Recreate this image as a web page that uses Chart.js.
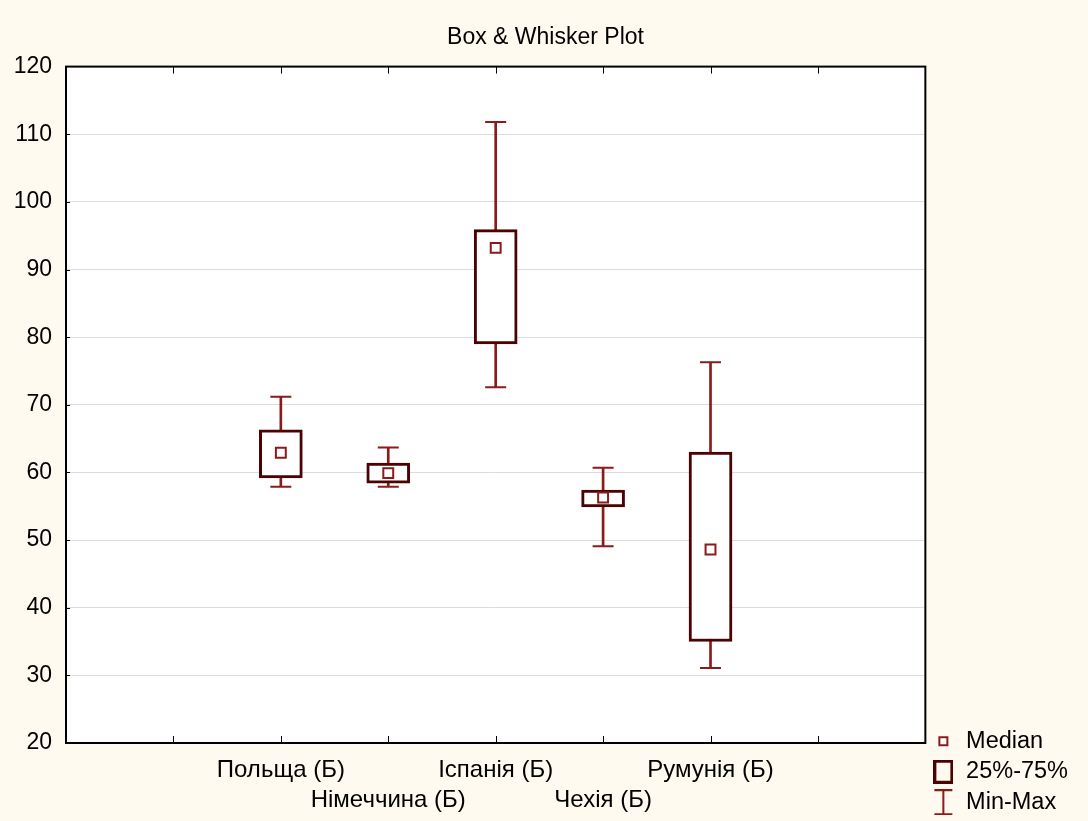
<!DOCTYPE html>
<html>
<head>
<meta charset="utf-8">
<title>Box & Whisker Plot</title>
<script src="https://cdn.jsdelivr.net/npm/chart.js@4/dist/chart.umd.min.js"></script>
<style>
  html, body { margin: 0; padding: 0; background: #fffaef; }
  #wrap { position: relative; width: 1088px; height: 821px; }
</style>
</head>
<body>
<div id="wrap"><canvas id="chart"></canvas></div>
<script>
// ---- data ----
const categories = ['Польща (Б)', 'Німеччина (Б)', 'Іспанія (Б)', 'Чехія (Б)', 'Румунія (Б)'];
const mins    = [57.9, 57.9, 72.6, 49.1, 31.1];
const q1      = [59.2, 58.4, 79.0, 54.9, 35.0];
const medians = [62.9, 59.9, 93.2, 56.3, 48.6];
const q3      = [66.3, 61.4, 95.9, 57.4, 63.0];
const maxs    = [71.2, 63.7, 111.8, 60.7, 76.3];
const yTicks  = [20, 30, 40, 50, 60, 70, 80, 90, 100, 110, 120];
const legendLabels = ['Median', '25%-75%', 'Min-Max'];

const WHISKER = '#8c1a1a';
const BOXLINE = '#4a0202';
const FONT = '"Liberation Sans", Arial, sans-serif';

// categories sit on slots 2..6 of a 0..8 axis (two empty slots each side)
const SLOT0 = 2;
const xMax = categories.length + 3;
const xs = categories.map((_, i) => i + SLOT0);

Chart.defaults.font.family = FONT;
Chart.defaults.color = '#000';

/* ---------- legend icons ---------- */
function icon(w, h, draw) {
  const c = document.createElement('canvas');
  c.width = w; c.height = h;
  draw(c.getContext('2d'));
  return c;
}
const medianIcon = icon(12, 12, ctx => {
  ctx.fillStyle = '#fff';
  ctx.fillRect(1, 1, 10, 10);
  ctx.strokeStyle = WHISKER; ctx.lineWidth = 2;
  ctx.strokeRect(2, 2, 8, 8);
});
const boxIcon = icon(20, 24, ctx => {
  ctx.strokeStyle = BOXLINE; ctx.lineWidth = 3;
  ctx.strokeRect(1.5, 1.5, 17, 21);
});
const rangeIcon = icon(20, 26, ctx => {
  ctx.strokeStyle = WHISKER; ctx.lineWidth = 2;
  ctx.beginPath();
  ctx.moveTo(1, 1); ctx.lineTo(19, 1);
  ctx.moveTo(10, 1); ctx.lineTo(10, 25);
  ctx.moveTo(1, 25); ctx.lineTo(19, 25);
  ctx.stroke();
});

/* ---------- plot frame + inward tick marks ---------- */
const framePlugin = {
  id: 'frame',
  beforeDraw(chart) {
    const { ctx, chartArea: a } = chart;
    ctx.save();
    ctx.fillStyle = '#fff';
    ctx.fillRect(a.left, a.top, a.right - a.left, a.bottom - a.top);
    ctx.restore();
  },
  afterDraw(chart) {
    const { ctx, chartArea: a, scales } = chart;
    ctx.save();
    ctx.strokeStyle = '#000';
    ctx.lineWidth = 1;
    ctx.beginPath();
    for (let v = 1; v < xMax; v++) {
      const px = Math.round(scales.x.getPixelForValue(v)) + 0.5;
      ctx.moveTo(px, a.bottom); ctx.lineTo(px, a.bottom - 7);
      ctx.moveTo(px, a.top); ctx.lineTo(px, a.top + 7);
    }
    for (const t of yTicks.slice(1, -1)) {
      const py = Math.round(scales.y.getPixelForValue(t)) + 0.5;
      ctx.moveTo(a.left, py); ctx.lineTo(a.left + 4, py);
    }
    ctx.stroke();
    ctx.lineWidth = 2;
    ctx.strokeRect(a.left, a.top, a.right - a.left, a.bottom - a.top);
    ctx.restore();
  }
};

const pts = vals => vals.map((v, i) => ({ x: xs[i], y: v }));

new Chart(document.getElementById('chart'), {
  type: 'bar',
  data: {
    datasets: [
      {
        type: 'scatter', label: 'Median', order: 0,
        data: pts(medians),
        pointStyle: 'rect', pointRadius: 7,
        pointBackgroundColor: '#fff', pointBorderColor: WHISKER, pointBorderWidth: 2
      },
      {
        label: '25%-75%', order: 1, grouped: false,
        data: xs.map((x, i) => ({ x, y: [q1[i], q3[i]] })),
        backgroundColor: '#fff', borderColor: BOXLINE, borderWidth: 3,
        borderSkipped: false, barThickness: 43
      },
      {
        type: 'scatter', label: 'caps', order: 2,
        data: pts(mins).concat(pts(maxs)),
        pointStyle: 'line', pointRadius: 10.5,
        pointBorderColor: WHISKER, pointBorderWidth: 2
      },
      {
        label: 'Min-Max', order: 3, grouped: false,
        data: xs.map((x, i) => ({ x, y: [mins[i], maxs[i]] })),
        backgroundColor: WHISKER, borderWidth: 0, barThickness: 2
      }
    ]
  },
  options: {
    responsive: true,
    maintainAspectRatio: false,
    animation: false,
    events: [],
    layout: { padding: { left: 13, right: 10, top: 0, bottom: 0 } },
    plugins: {
      title: {
        display: true, text: 'Box & Whisker Plot', color: '#000',
        font: { size: 23, weight: 'normal' },
        padding: { top: 24, bottom: 15 }
      },
      legend: {
        position: 'right', align: 'end',
        labels: {
          usePointStyle: true, boxWidth: 22, padding: 7, color: '#000',
          font: { size: 23.5 },
          generateLabels: () => [medianIcon, boxIcon, rangeIcon].map((img, i) => ({
            text: legendLabels[i], pointStyle: img, fillStyle: '#fff',
            strokeStyle: WHISKER, lineWidth: 0, hidden: false, datasetIndex: i
          }))
        }
      },
      tooltip: { enabled: false }
    },
    scales: {
      x: {
        type: 'linear', min: 0, max: xMax, offset: false,
        border: { display: false },
        grid: { display: false, drawTicks: false, offset: false },
        afterBuildTicks: s => { s.ticks = Array.from({ length: xMax + 1 }, (_, v) => ({ value: v })); },
        afterFit: s => { s.height = 78; },
        ticks: {
          autoSkip: false, maxRotation: 0, padding: 12,
          font: { size: 24, lineHeight: 1.25 }, color: '#000',
          callback: v => {
            const i = v - SLOT0;
            if (i < 0 || i >= categories.length) return '';
            return i % 2 === 0 ? [categories[i], ''] : ['', categories[i]];
          }
        }
      },
      y: {
        min: yTicks[0], max: yTicks[yTicks.length - 1],
        border: { display: false },
        grid: { color: '#dcdcdc', lineWidth: 1, drawTicks: false },
        afterBuildTicks: s => { s.ticks = yTicks.map(v => ({ value: v })); },
        afterFit: s => { s.width = 53; },
        ticks: { padding: 14, font: { size: 23 }, color: '#000' }
      }
    }
  },
  plugins: [framePlugin]
});
</script>
</body>
</html>
